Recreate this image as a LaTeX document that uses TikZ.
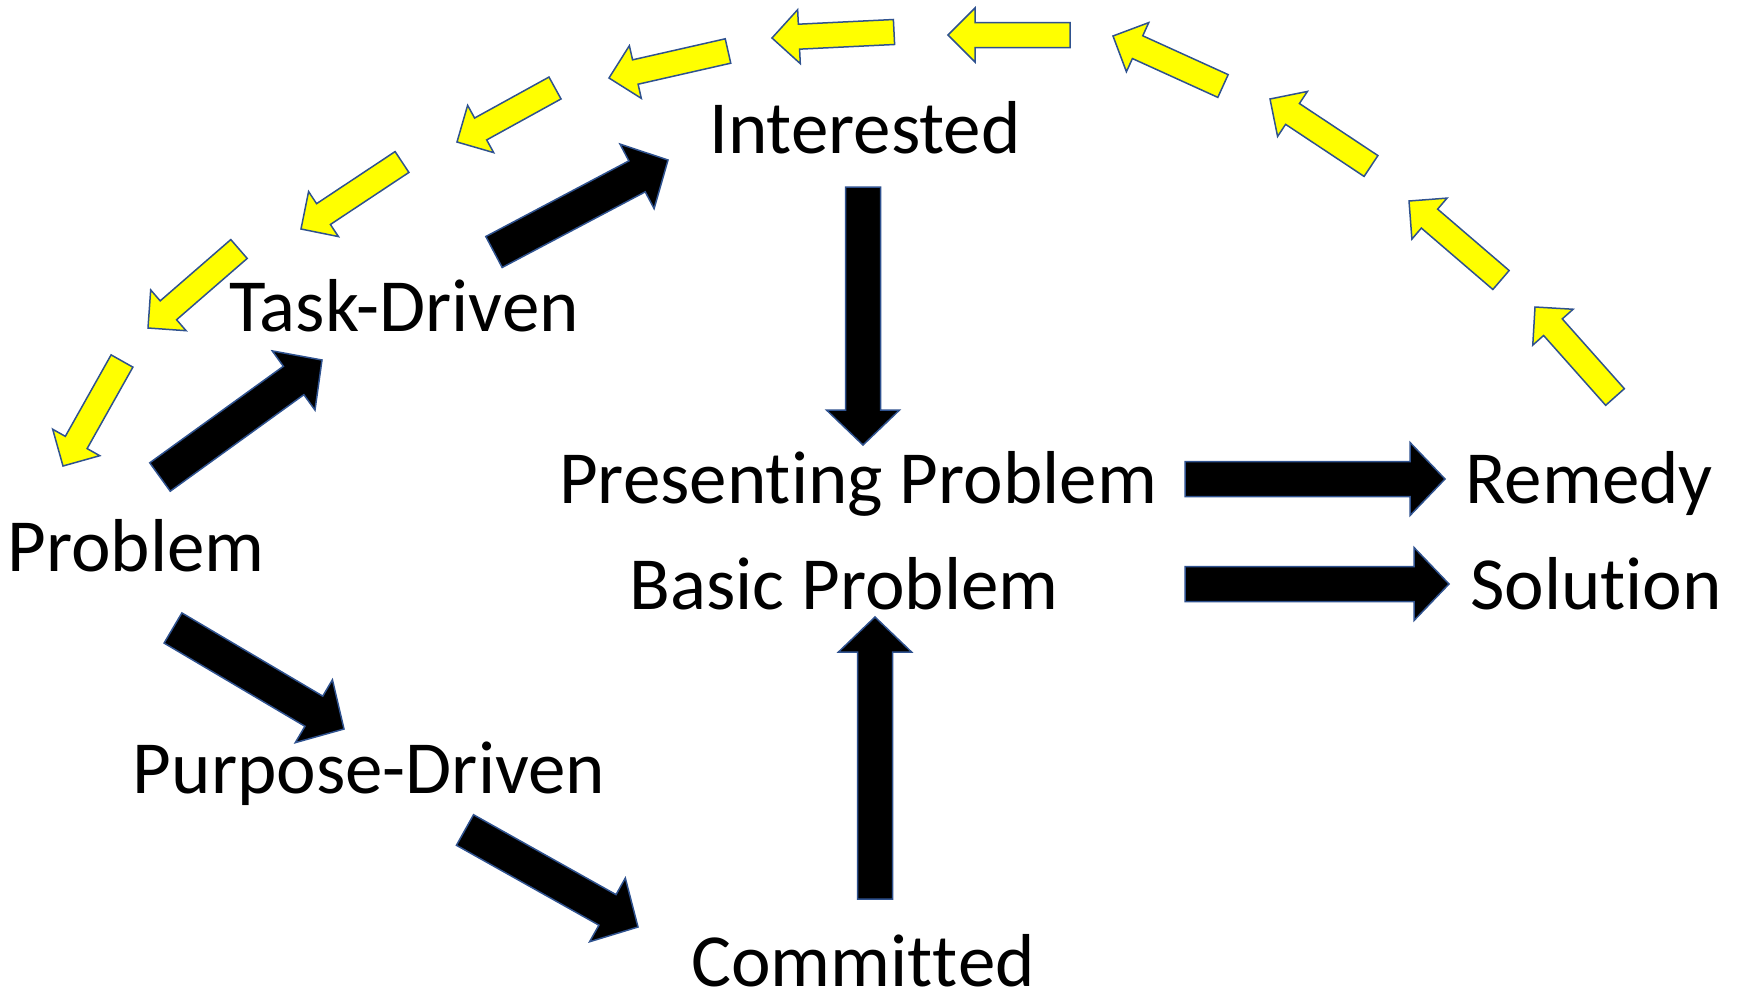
\documentclass[tikz,border=0pt]{standalone}
\usepackage{fontspec}
\setmainfont{Carlito}[Ligatures={NoCommon,NoContextual,NoRequired},Contextuals=NoAlternate]
\usetikzlibrary{calc}
\definecolor{outl}{RGB}{47,82,143}
\definecolor{ylwfill}{RGB}{255,255,0}
\tikzset{
  lbl/.style={inner sep=0pt, anchor=base, font=\fontsize{75}{90}\selectfont},
  blk/.style={fill=black, draw=outl, line width=1.5pt, line join=miter},
  ylw/.style={fill=ylwfill, draw=outl, line width=1.5pt, line join=miter}
}
% #1 style, #2 tail, #3 tip, #4 shaft half width, #5 head half width, #6 head length
\newcommand\blockarr[6]{%
  \coordinate (ba-b) at ($(#3)!#6!(#2)$);
  \draw[#1] ($(#2)!#4!90:(#3)$) -- ($(ba-b)!#4!90:(#3)$) -- ($(ba-b)!#5!90:(#3)$)
    -- (#3) -- ($(ba-b)!#5!-90:(#3)$) -- ($(ba-b)!#4!-90:(#3)$)
    -- ($(#2)!#4!-90:(#3)$) -- cycle;}
\newcommand\blackarr[2]{\blockarr{blk}{#1}{#2}{17.5pt}{36.5pt}{35pt}}
\newcommand\yellowarr[2]{\blockarr{ylw}{#1}{#2}{12.5pt}{27pt}{27pt}}
\newcommand\nolig{\kern0pt\relax}
\begin{document}
\begin{tikzpicture}[x=1pt,y=-1pt]
\useasboundingbox (0,0) rectangle (1740,999);
% labels
\node[lbl] (interested) at (865,153) {Interested};
\node[lbl] (task) at (404,331) {Task-Driven};
\node[lbl] (problem) at (136,571) {Problem};
\node[lbl] (presenting) at (858,503) {Present\nolig ing Problem};
\node[lbl] (basic) at (844,609) {Basic Problem};
\node[lbl] (remedy) at (1589,503) {Remedy};
\node[lbl] (solution) at (1596,609) {Solut\nolig ion};
\node[lbl] (purpose) at (369,793) {Purpose-Driven};
\node[lbl] (committed) at (863,986) {Commit\nolig t\nolig ed};
% black arrow ends
\coordinate (b1s) at (160,477);  \coordinate (b1e) at (322,360);
\coordinate (b2s) at (494,252);  \coordinate (b2e) at (668,160);
\coordinate (b3s) at (863,187);  \coordinate (b3e) at (863,445);
\coordinate (b4s) at (1185,479); \coordinate (b4e) at (1445,479);
\coordinate (b5s) at (1185,584); \coordinate (b5e) at (1449,584);
\coordinate (b6s) at (875,899);  \coordinate (b6e) at (875,617);
\coordinate (b7s) at (173,628);  \coordinate (b7e) at (344,729);
\coordinate (b8s) at (465,830);  \coordinate (b8e) at (638,927);
\blackarr{b1s}{b1e}
\blackarr{b2s}{b2e}
\blackarr{b3s}{b3e}
\blackarr{b4s}{b4e}
\blackarr{b5s}{b5e}
\blackarr{b6s}{b6e}
\blackarr{b7s}{b7e}
\blackarr{b8s}{b8e}
% yellow arrow ends
\coordinate (y1s) at (1615,397);  \coordinate (y1e) at (1535,307);
\coordinate (y2s) at (1501,280);  \coordinate (y2e) at (1409,201);
\coordinate (y3s) at (1371,166);  \coordinate (y3e) at (1270,99);
\coordinate (y4s) at (1223,86);   \coordinate (y4e) at (1113,36);
\coordinate (y5s) at (1070,35);   \coordinate (y5e) at (948,35);
\coordinate (y6s) at (894,32);    \coordinate (y6e) at (772,38);
\coordinate (y7s) at (728,51);    \coordinate (y7e) at (609,78);
\coordinate (y8s) at (555,88);    \coordinate (y8e) at (457,142);
\coordinate (y9s) at (402,162);   \coordinate (y9e) at (301,229);
\coordinate (y10s) at (239,249);  \coordinate (y10e) at (148,328);
\coordinate (y11s) at (122,361);  \coordinate (y11e) at (63,466);
\yellowarr{y1s}{y1e}
\yellowarr{y2s}{y2e}
\yellowarr{y3s}{y3e}
\yellowarr{y4s}{y4e}
\yellowarr{y5s}{y5e}
\yellowarr{y6s}{y6e}
\yellowarr{y7s}{y7e}
\yellowarr{y8s}{y8e}
\yellowarr{y9s}{y9e}
\yellowarr{y10s}{y10e}
\yellowarr{y11s}{y11e}
\end{tikzpicture}
\end{document}
